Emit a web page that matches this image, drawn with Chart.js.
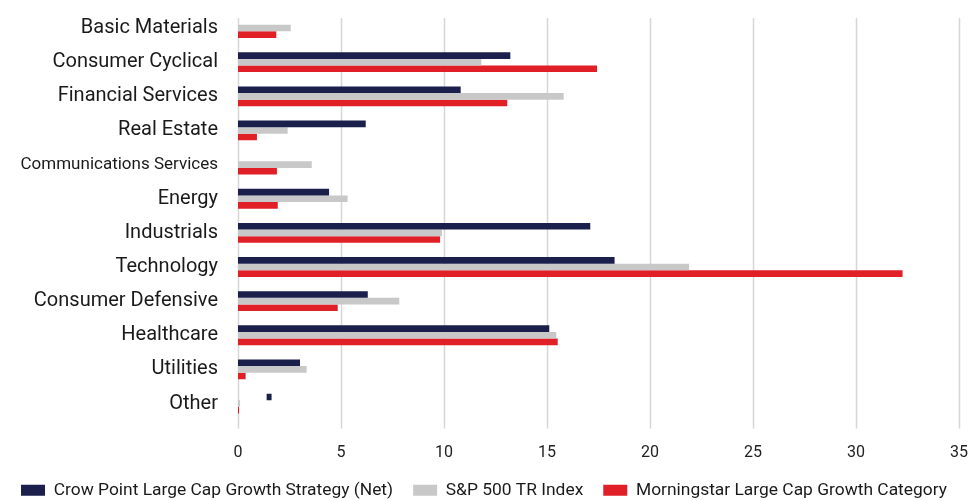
<!DOCTYPE html>
<html>
<head>
<meta charset="utf-8">
<script src="https://cdn.jsdelivr.net/npm/chart.js@4.4.0/dist/chart.umd.min.js"></script>
<style>
  html, body { margin: 0; padding: 0; background: #fff; }
  #wrap { width: 968px; height: 501px; }
</style>
</head>
<body>
<div id="wrap"><canvas id="sectorChart"></canvas></div>
<script>
const sectores = [
  "Basic Materials", "Consumer Cyclical", "Financial Services", "Real Estate",
  "Communications Services", "Energy", "Industrials", "Technology",
  "Consumer Defensive", "Healthcare", "Utilities", "Other"
];
// "Other" for the strategy shows as a small floating mark in the source
const crowPoint = [0, 13.22, 10.81, 6.2, 0, 4.42, 17.1, 18.28, 6.3, 15.11, 3.01, [1.39, 1.63]];
const sp500 = [2.56, 11.81, 15.81, 2.41, 3.58, 5.32, 9.9, 21.9, 7.83, 15.45, 3.33, 0.1];
const morningstar = [1.86, 17.43, 13.07, 0.92, 1.89, 1.93, 9.81, 32.26, 4.84, 15.52, 0.37, 0.05];
const xTicks = [0, 5, 10, 15, 20, 25, 30, 35];

const nombres = [
  "Crow Point Large Cap Growth Strategy (Net)",
  "S&P 500 TR Index",
  "Morningstar Large Cap Growth Category"
];
const colores = ["#1b1f4c", "#c8c8c9", "#e01f27"];

// vertical gridlines, drawn a bit lower than the category band like the source
const gridPlugin = {
  id: "gridShift",
  beforeDatasetsDraw(chart) {
    const { ctx, chartArea, scales } = chart;
    ctx.save();
    ctx.strokeStyle = "#d6d6d6";
    ctx.lineWidth = 1.5;
    xTicks.forEach(v => {
      const x = Math.round(scales.x.getPixelForValue(v)) + 0.5;
      ctx.beginPath();
      ctx.moveTo(x, chartArea.top + 7);
      ctx.lineTo(x, chartArea.bottom + 8);
      ctx.stroke();
    });
    ctx.restore();
  }
};

const ctx = document.getElementById("sectorChart").getContext("2d");
new Chart(ctx, {
  type: "bar",
  data: {
    labels: sectores,
    datasets: [crowPoint, sp500, morningstar].map((d, i) => ({
      label: nombres[i],
      data: d,
      backgroundColor: colores[i],
      borderWidth: 0,
      barPercentage: 1,
      categoryPercentage: 0.58
    }))
  },
  options: {
    indexAxis: "y",
    responsive: true,
    maintainAspectRatio: false,
    animation: false,
    layout: { autoPadding: false, padding: { left: 0, right: 0, top: 11, bottom: -8 } },
    scales: {
      x: {
        min: 0,
        max: 35,
        afterBuildTicks: s => { s.ticks = xTicks.map(v => ({ value: v })); },
        afterFit: s => { s.height = 41; s.paddingLeft = 0; s.paddingRight = 9; },
        grid: { display: false, drawTicks: false },
        border: { display: false },
        ticks: {
          padding: 23,
          color: "#222",
          font: { family: "Roboto", size: 16 }
        }
      },
      y: {
        afterFit: s => { s.width = 238; s.paddingTop = 0; s.paddingBottom = 0; },
        grid: { display: false, drawTicks: false },
        border: { display: false },
        ticks: {
          padding: 20,
          color: "#1a1a1a",
          autoSkip: false,
          font: c => ({ family: "Roboto", size: c.index === 4 ? 17 : 20 })
        }
      }
    },
    plugins: {
      legend: {
        position: "bottom",
        labels: {
          boxWidth: 24,
          boxHeight: 11,
          padding: 20,
          color: "#1a1a1a",
          font: { family: "Roboto", size: 17.4 }
        }
      },
      tooltip: { enabled: false }
    }
  },
  plugins: [gridPlugin]
});
</script>
</body>
</html>
